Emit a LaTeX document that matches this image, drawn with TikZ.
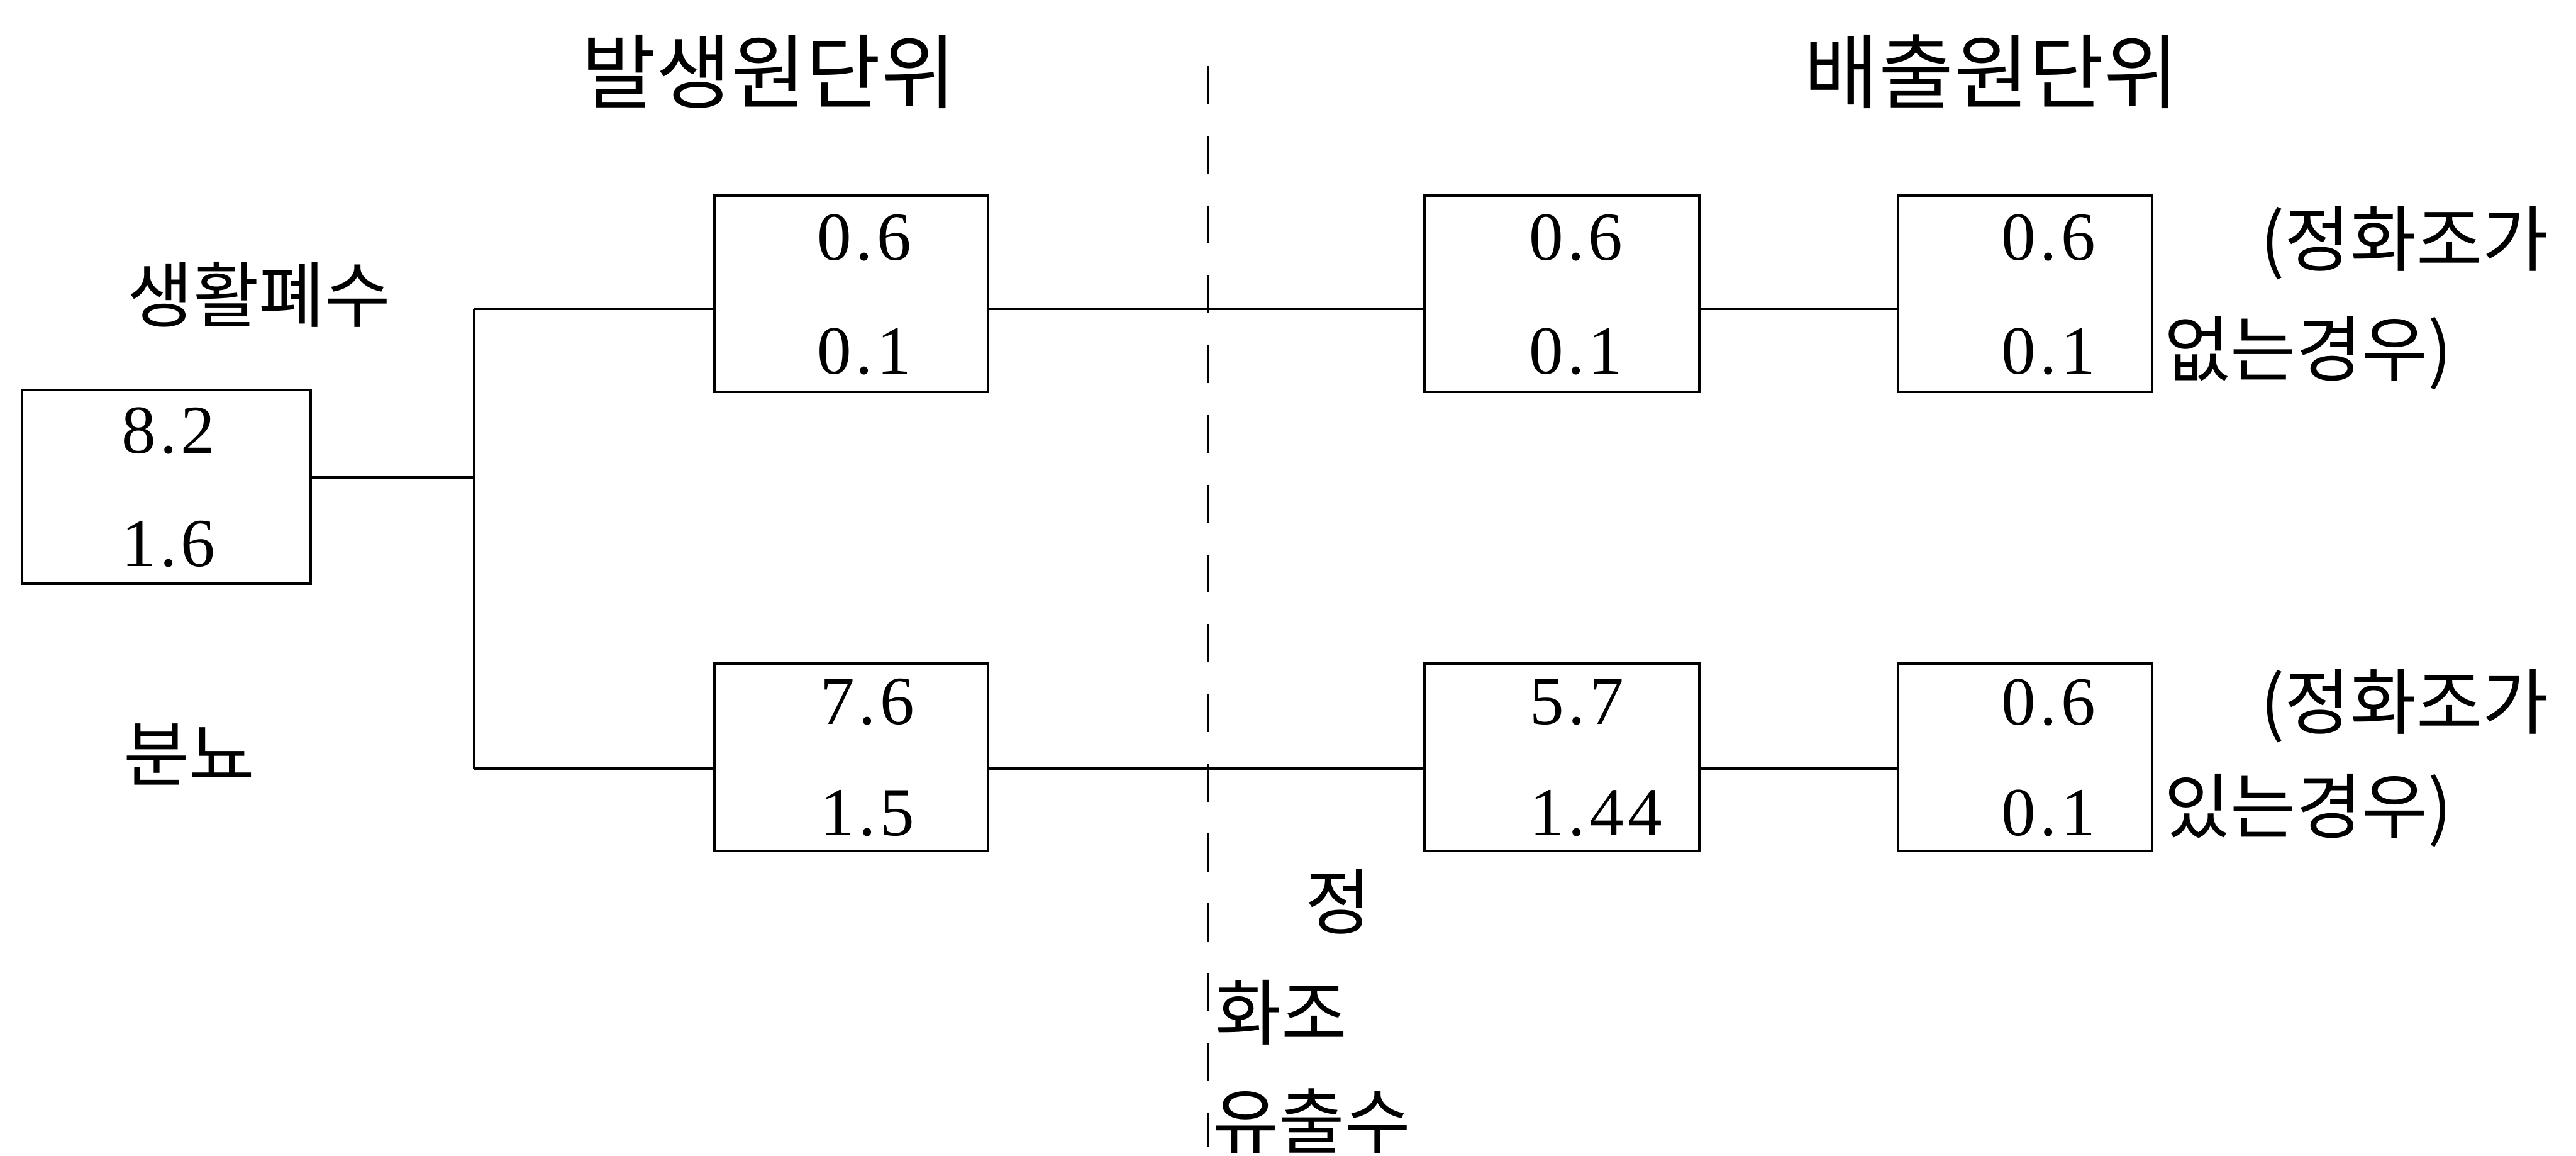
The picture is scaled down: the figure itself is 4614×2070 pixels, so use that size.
\documentclass[tikz,border=0pt]{standalone}
\usepackage{fontspec}
\setmainfont{Liberation Serif}
\newfontfamily\numfont[LetterSpace=6]{Liberation Serif}
\newfontfamily\kr{Noto Sans CJK KR}
\usetikzlibrary{calc}
\tikzset{
  box/.style={draw, line width=1.3pt, inner sep=0pt},
  num/.style={font=\numfont\fontsize{35pt}{40pt}\selectfont, inner sep=0pt, anchor=west},
  lbl/.style={font=\kr\fontsize{36.5pt}{42pt}\selectfont, inner sep=0pt},
  ttl/.style={font=\kr\fontsize{41.5pt}{48pt}\selectfont, inner sep=0pt},
  conn/.style={line width=1.3pt},
  dashline/.style={line width=1pt, dash pattern=on 6.8mm off 5.7mm}
}
\begin{document}
\begin{tikzpicture}[x=0.1mm,y=-0.1mm]
\useasboundingbox (0,0) rectangle (4614,2070);

% boxes
\node[box, minimum width=51.7mm, minimum height=34.7mm] (lb) at (297.5,871.5) {};
\node[box, minimum width=49mm, minimum height=35.2mm] (m1) at (1525,526) {};
\node[box, minimum width=49mm, minimum height=33.6mm] (m2) at (1525,1356) {};
\node[box, minimum width=49.2mm, minimum height=35.2mm] (r1) at (2798,526) {};
\node[box, minimum width=49.2mm, minimum height=33.6mm] (r2) at (2798,1356) {};
\node[box, minimum width=45.5mm, minimum height=35.2mm] (s1) at (3627.5,526) {};
\node[box, minimum width=45.5mm, minimum height=33.6mm] (s2) at (3627.5,1356) {};

% numbers
\node[num] (lba) at ($(lb.north west)+(180,76)$) {8.2};
\node[num] (lbb) at ($(lb.south west)+(180,-73)$) {1.6};
\node[num] (m1a) at ($(m1.north west)+(185,78)$) {0.6};
\node[num] (m1b) at ($(m1.south west)+(185,-75)$) {0.1};
\node[num] (m2a) at ($(m2.north west)+(191,72)$) {7.6};
\node[num] (m2b) at ($(m2.south west)+(191,-70)$) {1.5};
\node[num] (r1a) at ($(r1.north west)+(188,78)$) {0.6};
\node[num] (r1b) at ($(r1.south west)+(188,-75)$) {0.1};
\node[num] (r2a) at ($(r2.north west)+(190,72)$) {5.7};
\node[num] (r2b) at ($(r2.south west)+(190,-70)$) {1.44};
\node[num] (s1a) at ($(s1.north west)+(187,78)$) {0.6};
\node[num] (s1b) at ($(s1.south west)+(187,-75)$) {0.1};
\node[num] (s2a) at ($(s2.north west)+(187,72)$) {0.6};
\node[num] (s2b) at ($(s2.south west)+(187,-70)$) {0.1};

% titles and labels
\node[ttl] (t1) at (1377,128) {발생원단위};
\node[ttl] (t2) at (3567,128) {배출원단위};
\node[lbl] (lw) at (464,528) {생활폐수};
\node[lbl] (lf) at (339,1351) {분뇨};
\node[lbl, anchor=west] (c1a) at (4048,435) {(정화조가};
\node[lbl, anchor=west] (c1b) at (3876,633) {없는경우)};
\node[lbl, anchor=west] (c2a) at (4048,1264) {(정화조가};
\node[lbl, anchor=west] (c2b) at (3876,1452) {있는경우)};
\node[lbl] (e1) at (2397,1615) {정};
\node[lbl, anchor=west] (e2) at (2176,1813) {화조};
\node[lbl, anchor=west] (e3) at (2172,2008) {유출수};

% connectors
\coordinate (jm) at (849,855);
\coordinate (jt) at (849,553);
\coordinate (jb) at (849,1377);
\draw[conn] (lb.east |- jm) -- (jm);
\draw[conn] (jt) -- (jb);
\draw[conn] (jt) -- (m1.west |- jt);
\draw[conn] (jb) -- (m2.west |- jb);
\draw[conn] (m1.east |- jt) -- (r1.west |- jt);
\draw[conn] (m2.east |- jb) -- (r2.west |- jb);
\draw[conn] (r1.east |- jt) -- (s1.west |- jt);
\draw[conn] (r2.east |- jb) -- (s2.west |- jb);

% dashed divider
\coordinate (dtop) at (2163,118);
\coordinate (dbot) at (2163,2055);
\draw[dashline] (dtop) -- (dbot);
\end{tikzpicture}
\end{document}
